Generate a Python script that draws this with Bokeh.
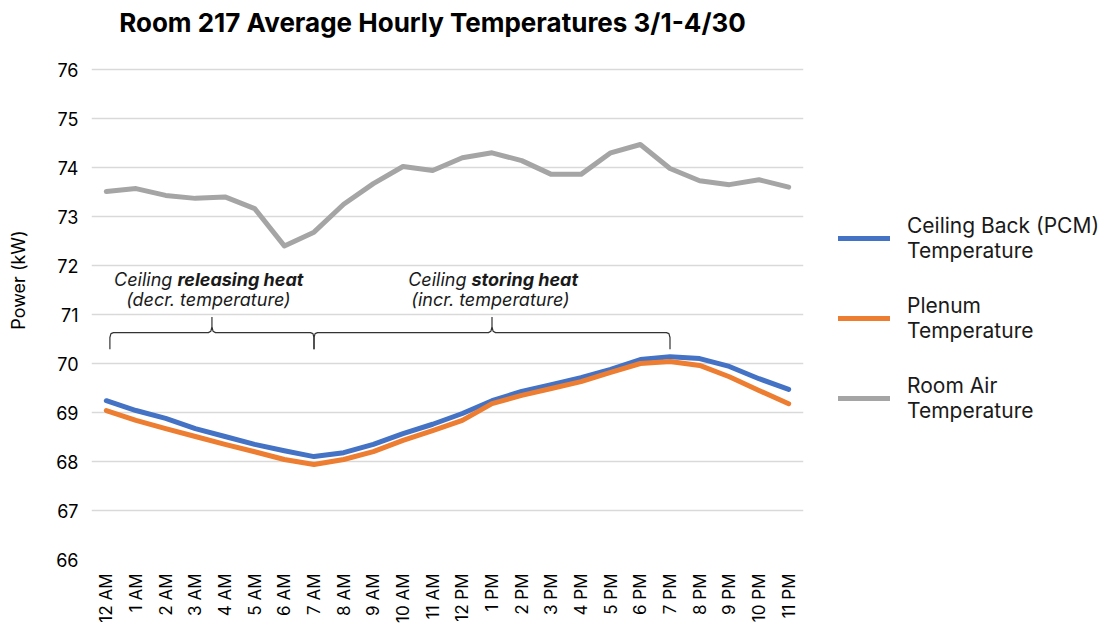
import numpy as np
from bokeh.plotting import figure
from bokeh.models import Range1d, FixedTicker, Legend, LegendItem
from bokeh.core.properties import value
from bokeh.embed import file_html
from bokeh.resources import INLINE

title_text = "Room 217 Average Hourly Temperatures 3/1-4/30"
hours = ["12 AM", "1 AM", "2 AM", "3 AM", "4 AM", "5 AM", "6 AM", "7 AM", "8 AM", "9 AM",
         "10 AM", "11 AM", "12 PM", "1 PM", "2 PM", "3 PM", "4 PM", "5 PM", "6 PM", "7 PM",
         "8 PM", "9 PM", "10 PM", "11 PM"]
ceiling_back = [69.24, 69.04, 68.88, 68.67, 68.51, 68.35, 68.22, 68.10, 68.18, 68.35,
                68.57, 68.76, 68.98, 69.24, 69.43, 69.57, 69.71, 69.88, 70.08, 70.14,
                70.10, 69.94, 69.69, 69.47]
plenum = [69.04, 68.84, 68.67, 68.51, 68.35, 68.20, 68.04, 67.94, 68.04, 68.20,
          68.43, 68.63, 68.84, 69.18, 69.35, 69.49, 69.63, 69.82, 70.00, 70.04,
          69.96, 69.73, 69.45, 69.18]
room_air = [73.51, 73.57, 73.43, 73.37, 73.40, 73.16, 72.40, 72.68, 73.25, 73.67,
            74.02, 73.94, 74.20, 74.30, 74.14, 73.86, 73.86, 74.30, 74.47, 73.98,
            73.73, 73.65, 73.75, 73.60]
y_ticks = [66, 67, 68, 69, 70, 71, 72, 73, 74, 75, 76]
series_names = ["Ceiling Back (PCM)\nTemperature", "Plenum\nTemperature", "Room Air\nTemperature"]
colors = ["#4472C4", "#ED7D31", "#A5A5A5"]

# phase annotation spans (category indices)
release_start, release_end = hours.index("12 AM"), hours.index("7 AM")
store_start, store_end = hours.index("7 AM"), hours.index("7 PM")

FONT = "Inter"
x = list(range(len(hours)))
PX_PER_UNIT = 49.0
HEADROOM_PX = 69  # blank band above the top gridline that holds the title
y_top = y_ticks[-1] + HEADROOM_PX / PX_PER_UNIT

p = figure(frame_width=712, frame_height=int(round((y_top - y_ticks[0]) * PX_PER_UNIT)),
           output_backend="svg", toolbar_location=None,
           x_range=Range1d(-0.5, len(hours) - 0.5), y_range=Range1d(y_ticks[0], y_top),
           min_border_left=91, min_border_right=0, min_border_top=0, min_border_bottom=64)
p.outline_line_color = None
p.background_fill_color = "white"
p.border_fill_color = "white"

# title (drawn in the blank band above the grid)
p.text([(len(hours) - 1) / 2.0], [y_ticks[-1] + 47 / PX_PER_UNIT], text=[title_text],
       text_font=value(FONT), text_font_size="26px", text_font_style="bold",
       text_align="center", text_baseline="middle", x_offset=-15, text_color="#000000")

# axes
p.xaxis.ticker = FixedTicker(ticks=x)
p.xaxis.major_label_overrides = {i: h for i, h in enumerate(hours)}
p.xaxis.major_label_orientation = np.pi / 2
p.xaxis.major_label_text_font = FONT
p.xaxis.major_label_text_font_size = "17px"
p.xaxis.major_label_text_color = "#000000"
p.xaxis.major_label_standoff = 8
p.xaxis.axis_line_color = None
p.xaxis.major_tick_line_color = None
p.xaxis.minor_tick_line_color = None

p.yaxis.ticker = FixedTicker(ticks=y_ticks)
p.yaxis.major_label_text_font = FONT
p.yaxis.major_label_text_font_size = "18px"
p.yaxis.major_label_text_color = "#000000"
p.yaxis.major_label_standoff = 7
p.yaxis.axis_line_color = None
p.yaxis.major_tick_line_color = None
p.yaxis.minor_tick_line_color = None
p.yaxis.axis_label = "Power (kW)"
p.yaxis.axis_label_text_font = FONT
p.yaxis.axis_label_text_font_size = "18px"
p.yaxis.axis_label_text_font_style = "normal"
p.yaxis.axis_label_text_color = "#000000"
p.yaxis.axis_label_standoff = 24

p.xgrid.grid_line_color = None
p.ygrid.grid_line_color = "#D9D9D9"
p.ygrid.grid_line_width = 1.3

# data lines
renderers = []
for vals, c in zip([ceiling_back, plenum, room_air], colors):
    r = p.line(x, vals, line_color=c, line_width=5, line_join="round", line_cap="round")
    renderers.append(r)

# braces
def brace(x0, x1, y_line, y_end, y_peak):
    xm = (x0 + x1) / 2.0
    d = 0.12
    xs = [x0, x0, x0 + d * 0.3, x0 + d, xm - d, xm - d * 0.3, xm, xm, xm, xm + d * 0.3, xm + d,
          x1 - d, x1 - d * 0.3, x1, x1]
    ys = [y_end, y_line - 0.1, y_line - 0.02, y_line, y_line, y_line + 0.03, y_line + 0.12, y_peak,
          y_line + 0.12, y_line + 0.03, y_line, y_line, y_line - 0.02, y_line - 0.1, y_end]
    return xs, ys

b1 = brace(release_start + 0.12, release_end, 70.63, 70.29, 70.95)
b2 = brace(store_start, store_end, 70.63, 70.29, 70.95)
p.multi_line([b1[0], b2[0]], [b1[1], b2[1]], line_color="#333333", line_width=1.2)

# annotation texts
def phase_label(xc, prefix, bold, sub, split_px):
    p.text([xc], [71.71], text=[prefix], text_font=value(FONT), text_font_size="18px",
           text_font_style="italic", text_align="right", text_baseline="middle",
           x_offset=split_px, text_color="#1a1a1a")
    p.text([xc], [71.71], text=[bold], text_font=value(FONT), text_font_size="18px",
           text_font_style="bold italic", text_align="left", text_baseline="middle",
           x_offset=split_px, text_color="#1a1a1a")
    p.text([xc], [71.30], text=[sub], text_font=value(FONT), text_font_size="18px",
           text_font_style="italic", text_align="center", text_baseline="middle",
           text_color="#1a1a1a")

phase_label((release_start + release_end) / 2.0 - 0.06, "Ceiling ", "releasing heat",
            "(decr. temperature)", -31)
phase_label((store_start + store_end) / 2.0 - 0.05, "Ceiling ", "storing heat",
            "(incr. temperature)", -19)

legend = Legend(items=[LegendItem(label=n, renderers=[r]) for n, r in zip(series_names, renderers)],
                location=(35, 136), orientation="vertical")
legend.label_text_font = FONT
legend.label_text_font_size = "21px"
legend.label_text_color = "#1a1a1a"
legend.label_text_line_height = 0.92
legend.glyph_width = 52
legend.glyph_height = 20
legend.label_standoff = 17
legend.spacing = 30
legend.padding = 0
legend.margin = 0
legend.border_line_color = None
legend.background_fill_alpha = 0
p.add_layout(legend, "right")

open("out.html", "w").write(file_html(p, INLINE))
